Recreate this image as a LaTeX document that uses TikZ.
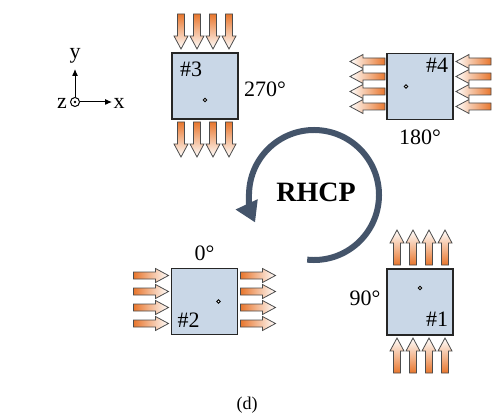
\documentclass[tikz,border=0pt]{standalone}
\usepackage{fontspec}
\setmainfont{Liberation Serif}
\usepackage{tikz}
\usetikzlibrary{calc}
\usetikzlibrary{arrows.meta}
\definecolor{patchblue}{RGB}{201,215,231}
\definecolor{tailorange}{RGB}{232,118,45}
\definecolor{arcslate}{RGB}{68,84,106}
\tikzset{
    patchbox/.style={
        draw=black!85,
        line width=0.7pt,
        fill=patchblue
    },
    % outline of the orange field arrows
    arrowline/.style={
        draw=black!70,
        line width=0.4pt
    },
    feedpoint/.style={
        draw=black,
        line width=0.4pt,
        fill=white
    },
    axisarrow/.style={
        line width=0.5pt,
        ->,
        >={Latex[length=3.5pt, width=3pt]}
    },
    rightarr/.pic={
        \path[arrowline,left color=tailorange,right color=white]
        (0,-3.5) -- (22,-3.5) -- (22,-7) -- (35,0) -- (22,7) -- (22,3.5) -- (0,3.5) -- cycle;
    },
    leftarr/.pic={
        \path[arrowline,right color=tailorange,left color=white]
        (0,-3.5) -- (-22,-3.5) -- (-22,-7) -- (-35,0) -- (-22,7) -- (-22,3.5) -- (0,3.5) -- cycle;
    },
    uparr/.pic={
        \path[arrowline,bottom color=tailorange,top color=white]
        (-3.5,0) -- (-3.5,22) -- (-7,22) -- (0,35) -- (7,22) -- (3.5,22) -- (3.5,0) -- cycle;
    },
    downarr/.pic={
        \path[arrowline,top color=tailorange,bottom color=white]
        (-3.5,0) -- (-3.5,-22) -- (-7,-22) -- (0,-35) -- (7,-22) -- (3.5,-22) -- (3.5,0) -- cycle;
    }
}

\begin{document}
\begin{tikzpicture}[x=0.5pt,y=0.5pt,font=\fontsize{11}{13}\selectfont]

    \useasboundingbox (0,0) rectangle (492,418);

    % axes
    \path (75,316) coordinate (o)
          (75,349) coordinate (ytip)
          (112,316) coordinate (xtip);
    \draw[axisarrow] ($(o)+(0,4.5)$) to (ytip);
    \draw[axisarrow] ($(o)+(4.5,0)$) to (xtip);
    \draw[line width=0.5pt,fill=white] (o) circle (4.5);
    \fill (o) circle (1.4);
    \node (ylab) at (75,362) {y};
    \node (xlab) at (119,315) {x};
    \node (zlab) at (62,315) {z};

    % ===================== #3 (270) =====================
    \begin{scope}[shift={(205,332)}]
        \foreach \u in {-24,-8,8,24} {
            \pic at (\u,72) {downarr};
            \pic at (\u,-36) {downarr};
        }
        \draw[patchbox] (-33,-33) rectangle (33,33);
        \draw[feedpoint] (0,-14) circle (1.8);
        \node (p3) at (-14,17) {\#3};
        \node (a3) at (60,-3) {270°};
    \end{scope}

    % ===================== #4 (180) =====================
    \begin{scope}[shift={(420,331.5)}]
        \foreach \v in {25,10,-5,-20} {
            \pic at (-35,\v) {leftarr};
            \pic at (71,\v) {leftarr};
        }
        \draw[patchbox] (-33,-33) rectangle (33,33);
        \draw[feedpoint] (-14,0) circle (1.8);
        \node (p4) at (17,21) {\#4};
        \node (a4) at (0,-51) {180°};
    \end{scope}

    % ===================== #2 (0) =====================
    \begin{scope}[shift={(204.5,116.5)}]
        \foreach \v in {26,10,-6,-22} {
            \pic at (-71,\v) {rightarr};
            \pic at (36,\v) {rightarr};
        }
        \draw[patchbox] (-33,-33) rectangle (33,33);
        \draw[feedpoint] (14,0) circle (1.8);
        \node (p2) at (-16,-19) {\#2};
        \node (a2) at (0,48) {0°};
    \end{scope}

    % ===================== #1 (90) =====================
    \begin{scope}[shift={(420,116)}]
        \foreach \u in {-23,-7,9,25} {
            \pic at (\u,37) {uparr};
            \pic at (\u,-71) {uparr};
        }
        \draw[patchbox] (-33,-33) rectangle (33,33);
        \draw[feedpoint] (0,14) circle (1.8);
        \node (p1) at (17,-17) {\#1};
        \node (a1) at (-55,4) {90°};
    \end{scope}

    % rotation sense
    \coordinate (c) at (314,223);
    \draw[arcslate,line width=3pt,-{Triangle[length=10pt,width=11.5pt]}]
        ($(c)+(-96:65)$) arc[start angle=-96, end angle=205, radius=65];
    \node[font=\fontsize{14}{16}\selectfont\bfseries] (rhcp) at (316,226) {RHCP};

    \node[font=\fontsize{9}{11}\selectfont] (cap) at (247,13) {(d)};
\end{tikzpicture}
\end{document}
